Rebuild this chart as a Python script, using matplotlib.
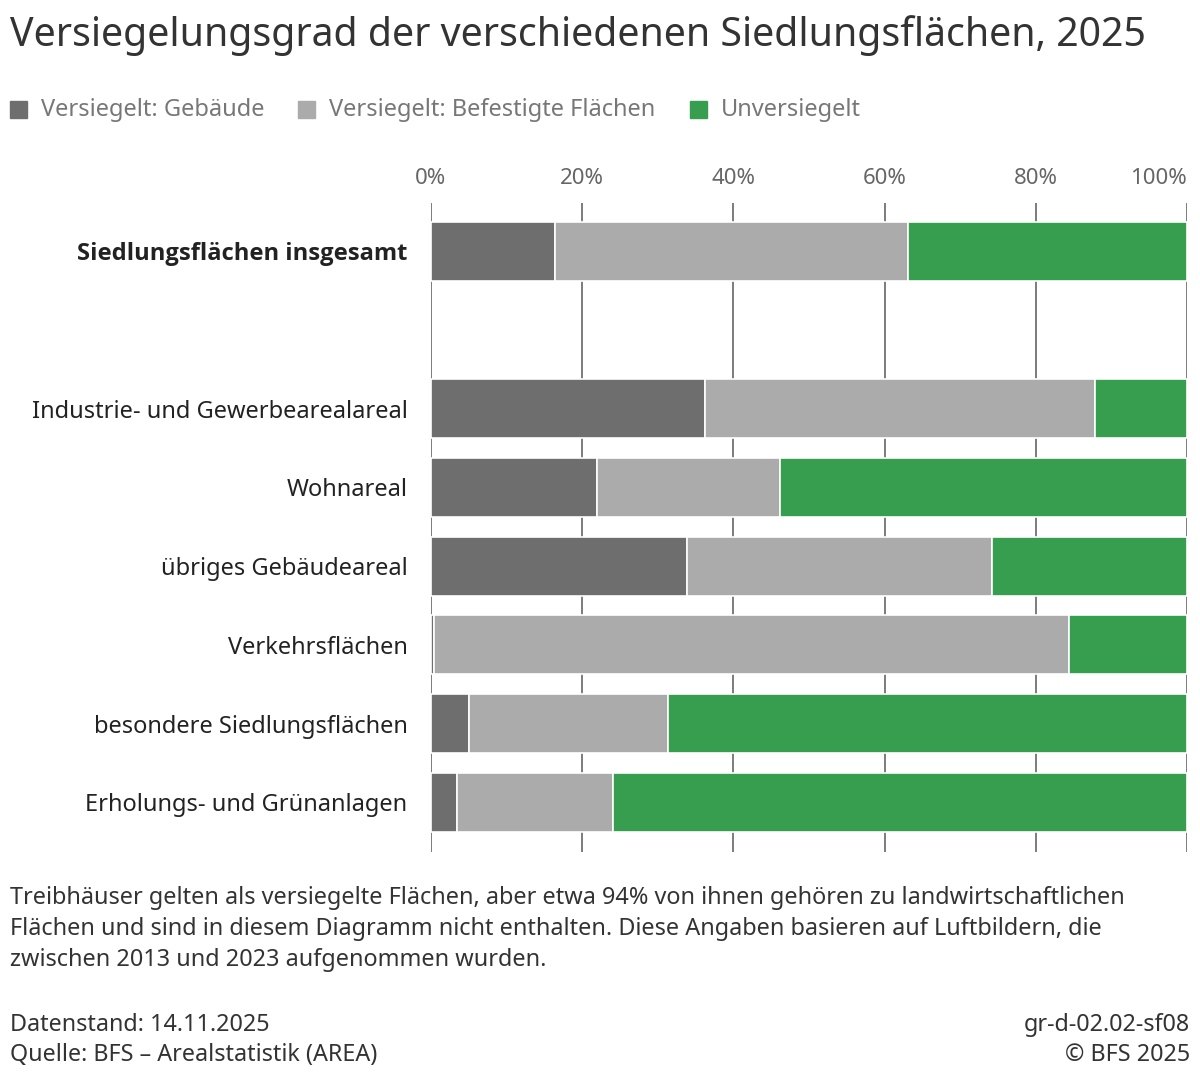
import matplotlib.pyplot as plt
import numpy as np

plt.rcParams['font.family'] = ['Noto Sans', 'DejaVu Sans']

categories = ["Siedlungsflächen insgesamt", "Industrie- und Gewerbearealareal", "Wohnareal",
              "übriges Gebäudeareal", "Verkehrsflächen", "besondere Siedlungsflächen",
              "Erholungs- und Grünanlagen"]
gebaeude = [16.4, 36.3, 21.9, 33.9, 0.4, 5.0, 3.5]
befestigt = [46.7, 51.5, 24.3, 40.3, 84.0, 26.4, 20.6]
unversiegelt = [36.9, 12.2, 53.8, 25.8, 15.6, 68.6, 75.9]
series_names = ["Versiegelt: Gebäude", "Versiegelt: Befestigte Flächen", "Unversiegelt"]
colors = ["#6e6e6e", "#ababab", "#389e4f"]
ticks = [0, 20, 40, 60, 80, 100]

fig = plt.figure(figsize=(12, 10.84), dpi=100)
ax = fig.add_axes([431 / 1200, 1 - 852 / 1084, 756 / 1200, 649 / 1084])

ypos = np.array([0, 2, 3, 4, 5, 6, 7])
left = np.zeros(len(categories))
for vals, col in zip([gebaeude, befestigt, unversiegelt], colors):
    ax.barh(ypos, vals, left=left, height=0.75, color=col, edgecolor='white',
            linewidth=1.2, zorder=2)
    left += np.array(vals)

ax.set_xlim(0, 100)
ax.set_ylim(7.63, -0.61)
ax.set_xticks(ticks)
ax.set_xticklabels([f"{t}%" for t in ticks])
ax.xaxis.tick_top()
ax.tick_params(axis='x', length=0, pad=10, labelsize=16, labelcolor='#666666')
ax.get_xticklabels()[-1].set_horizontalalignment('right')
ax.grid(axis='x', color='#666666', linewidth=1.2, zorder=1)
ax.set_axisbelow(True)
ax.set_yticks(ypos, labels=[""] * len(ypos))
ax.tick_params(axis='y', length=0)
for y, name in zip(ypos, categories):
    if y == 0:
        ax.text(-3.1, y, name, ha='right', va='center_baseline', fontsize=17.1, color='#222222',
                fontweight='bold', family=['Open Sans', 'Noto Sans', 'DejaVu Sans'])
    else:
        ax.text(-3.1, y, name, ha='right', va='center_baseline', fontsize=17, color='#222222')
for s in ax.spines.values():
    s.set_visible(False)

fig.text(10 / 1200, 1 - 36 / 1084, "Versiegelungsgrad der verschiedenen Siedlungsflächen, 2025",
         fontsize=28.3, color='#333333', va='center')

# legend
lx = [10, 298, 690]
for x, name, col in zip(lx, series_names, colors):
    fig.patches.append(plt.Rectangle((x / 1200, 1 - 118 / 1084), 17 / 1200, 17 / 1084,
                                     transform=fig.transFigure, color=col))
    fig.text((x + 31) / 1200, 1 - 110 / 1084, name, fontsize=17, color='#777777', va='center')

note = ("Treibhäuser gelten als versiegelte Flächen, aber etwa 94% von ihnen gehören zu landwirtschaftlichen\n"
        "Flächen und sind in diesem Diagramm nicht enthalten. Diese Angaben basieren auf Luftbildern, die\n"
        "zwischen 2013 und 2023 aufgenommen wurden.")
fig.text(10 / 1200, 1 - 886 / 1084, note, fontsize=16.9, color='#333333', va='top', linespacing=1.4)
fig.text(10 / 1200, 1 - 1013 / 1084, "Datenstand: 14.11.2025\nQuelle: BFS – Arealstatistik (AREA)",
         fontsize=16.8, color='#333333', va='top', linespacing=1.33)
fig.text(1190 / 1200, 1 - 1013 / 1084, "gr-d-02.02-sf08\n© BFS 2025",
         fontsize=16.8, color='#333333', va='top', ha='right', linespacing=1.33, multialignment='right')

fig.savefig("out.png", dpi=100)
